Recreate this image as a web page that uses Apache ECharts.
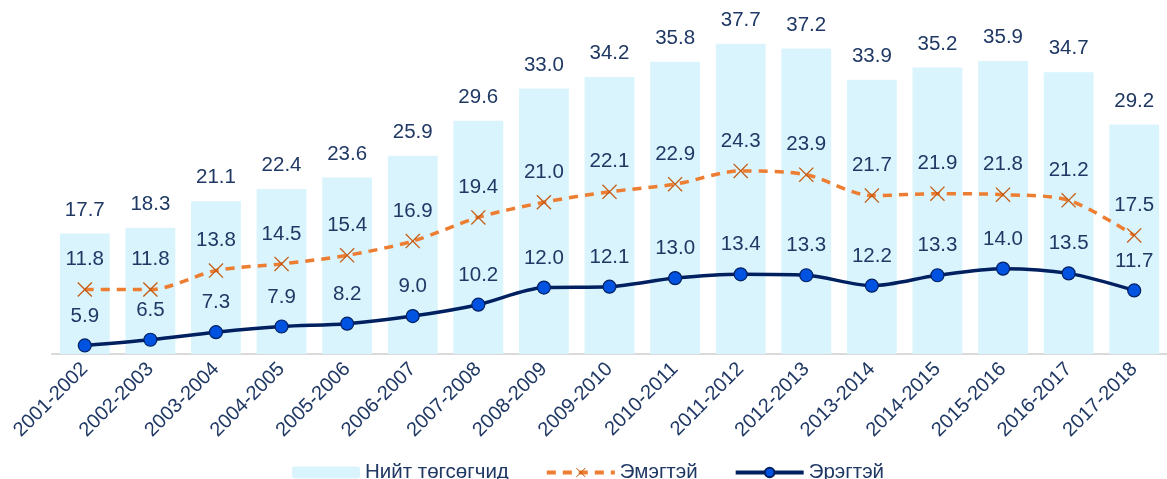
<!DOCTYPE html>
<html>
<head>
<meta charset="utf-8">
<script src="https://cdn.jsdelivr.net/npm/echarts@6/dist/echarts.min.js"></script>
<style>
  html, body { margin: 0; padding: 0; background: #fff; }
  #main { width: 1167px; height: 479px; }
</style>
</head>
<body>
<div id="main"></div>
<script type="text/javascript">
    var years = ['2001-2002', '2002-2003', '2003-2004', '2004-2005', '2005-2006', '2006-2007',
        '2007-2008', '2008-2009', '2009-2010', '2010-2011', '2011-2012', '2012-2013',
        '2013-2014', '2014-2015', '2015-2016', '2016-2017', '2017-2018'];
    var total = [17.7, 18.3, 21.1, 22.4, 23.6, 25.9, 29.6, 33.0, 34.2, 35.8, 37.7, 37.2, 33.9, 35.2, 35.9, 34.7, 29.2];
    var female = [11.8, 11.8, 13.8, 14.5, 15.4, 16.9, 19.4, 21.0, 22.1, 22.9, 24.3, 23.9, 21.7, 21.9, 21.8, 21.2, 17.5];
    var male = [5.9, 6.5, 7.3, 7.9, 8.2, 9.0, 10.2, 12.0, 12.1, 13.0, 13.4, 13.3, 12.2, 13.3, 14.0, 13.5, 11.7];

    var txt = '#1F3864';
    var fnt = 'Liberation Sans, Arial, sans-serif';
    // тонкий крестик для маркера
    var cross = 'path://M0,0.6 L0.6,0 L5,4.4 L9.4,0 L10,0.6 L5.6,5 L10,9.4 L9.4,10 L5,5.6 L0.6,10 L0,9.4 L4.4,5 Z';

    var myChart = echarts.init(document.getElementById('main'));
    var fmt = function (p) { return p.value.toFixed(1); };
    var myOption = {
        animation: false,
        textStyle: { fontFamily: fnt },
        grid: { left: 52, right: -9, top: 22, bottom: 125 },
        legend: {
            top: 457,
            left: 287,
            itemWidth: 68,
            itemHeight: 12,
            itemGap: 36,
            lineStyle: { width: 4 },
            textStyle: { color: txt, fontSize: 20.5, fontFamily: fnt },
            data: ['Нийт төгсөгчид', 'Эмэгтэй', 'Эрэгтэй']
        },
        xAxis: {
            type: 'category',
            data: years,
            axisTick: { show: false },
            axisLine: { lineStyle: { color: '#D9D9D9', width: 2 } },
            axisLabel: { rotate: 45, color: txt, fontSize: 20, margin: 12, interval: 0 }
        },
        yAxis: {
            type: 'value',
            min: 5,
            max: 40,
            show: false,
            splitLine: { show: false }
        },
        series: [
            {
                name: 'Нийт төгсөгчид',
                type: 'bar',
                data: total,
                barCategoryGap: '24%',
                itemStyle: { color: '#D9F4FD' },
                label: { show: true, position: 'top', distance: 13, color: txt, fontSize: 20.5, formatter: fmt }
            },
            {
                name: 'Эмэгтэй',
                type: 'line',
                data: female,
                smooth: 0.3,
                symbol: cross,
                symbolSize: 15,
                lineStyle: { color: '#ED7D31', width: 3.5, type: [9, 7] },
                itemStyle: { color: '#C55A11' },
                label: { show: true, position: 'top', distance: 12, color: txt, fontSize: 20.5, formatter: fmt }
            },
            {
                name: 'Эрэгтэй',
                type: 'line',
                data: male,
                smooth: 0.3,
                symbol: 'circle',
                symbolSize: 13,
                lineStyle: { color: '#002060', width: 3.5 },
                itemStyle: { color: '#0052E0', borderColor: '#002060', borderWidth: 1.2 },
                label: { show: true, position: 'top', distance: 12, color: txt, fontSize: 20.5, formatter: fmt }
            }
        ]
    };

    myChart.setOption(myOption);
</script>
</body>
</html>
